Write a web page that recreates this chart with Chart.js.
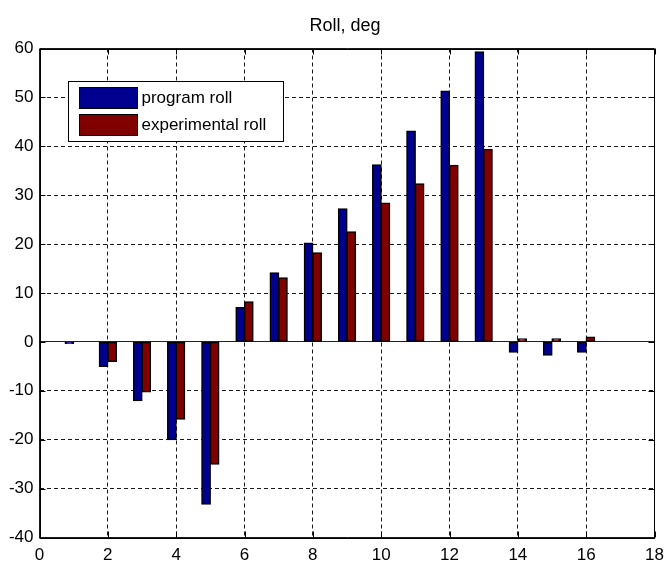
<!DOCTYPE html>
<html>
<head>
<meta charset="utf-8">
<title>Roll, deg</title>
<script src="https://cdn.jsdelivr.net/npm/chart.js@4/dist/chart.umd.min.js"></script>
<style>
  html, body { margin: 0; padding: 0; background: #fff; }
  canvas { display: block; }
</style>
</head>
<body>
<canvas id="c" width="666" height="561"></canvas>
<script>
// Run numbers (x positions) and roll angles in degrees
const runs = [1, 2, 3, 4, 5, 6, 7, 8, 9, 10, 11, 12, 13, 14, 15, 16];
const programRoll = [-0.3, -5, -12, -20, -33.2, 7, 14.1, 20.2, 27.2, 36.2, 43.1, 51.3, 59.3, -2.1, -2.7, -2.1];
const experimentalRoll = [0, -4, -10.2, -15.8, -25, 8.2, 13.1, 18.2, 22.5, 28.4, 32.3, 36.1, 39.4, 0.6, 0.6, 1.0];
const xTicks = [0, 2, 4, 6, 8, 10, 12, 14, 16, 18];
const yTicks = [-40, -30, -20, -10, 0, 10, 20, 30, 40, 50, 60];
const titleText = 'Roll, deg';

const FONT = "'Liberation Sans', Arial, sans-serif";

const toPoints = vals => runs.map((r, i) => ({ x: r, y: vals[i] }));

// Axes title, solid frame, inward tick marks and the boxed legend
const framePlugin = {
  id: 'frame',
  afterDatasetsDraw(chart) {
    const { ctx, chartArea: a, scales } = chart;
    ctx.save();
    ctx.fillStyle = '#000';
    ctx.font = '18px ' + FONT;
    ctx.textAlign = 'center';
    ctx.textBaseline = 'middle';
    ctx.fillText(titleText, (a.left + a.right) / 2 - 2, a.top - 22);

    ctx.strokeStyle = '#000';
    ctx.lineWidth = 1;
    ctx.setLineDash([]);
    ctx.strokeRect(Math.round(a.left) + 0.5, Math.round(a.top) + 0.5,
      Math.round(a.right - a.left) - 1, Math.round(a.bottom - a.top));
    const tl = 6;
    ctx.beginPath();
    scales.x.ticks.forEach(t => {
      const px = Math.round(scales.x.getPixelForValue(t.value)) + 0.5;
      ctx.moveTo(px, a.bottom); ctx.lineTo(px, a.bottom - tl);
      ctx.moveTo(px, a.top); ctx.lineTo(px, a.top + tl);
    });
    scales.y.ticks.forEach(t => {
      const py = Math.round(scales.y.getPixelForValue(t.value)) + 0.5;
      ctx.moveTo(a.left, py); ctx.lineTo(a.left + tl, py);
      ctx.moveTo(a.right, py); ctx.lineTo(a.right - tl, py);
    });
    ctx.stroke();

    // legend box
    const bx = Math.round(a.left + 28) + 0.5, by = Math.round(a.top + 32) + 0.5;
    const bw = 215, bh = 60;
    ctx.fillStyle = '#fff';
    ctx.fillRect(bx, by, bw, bh);
    ctx.strokeRect(bx, by, bw, bh);
    ctx.font = '17px ' + FONT;
    ctx.textBaseline = 'middle';
    ctx.textAlign = 'left';
    chart.data.datasets.forEach((ds, i) => {
      const sy = by + 6 + i * 27;
      ctx.fillStyle = ds.backgroundColor;
      ctx.fillRect(bx + 11, sy, 58, 21);
      ctx.strokeRect(bx + 11, sy, 58, 21);
      ctx.fillStyle = '#000';
      ctx.fillText(ds.label, bx + 73, sy + 11);
    });
    ctx.restore();
  }
};

new Chart(document.getElementById('c'), {
  type: 'bar',
  data: {
    datasets: [
      {
        label: 'program roll',
        data: toPoints(programRoll),
        backgroundColor: '#00008f',
        borderColor: '#000',
        borderWidth: 1.5,
        inflateAmount: 0.6,
        borderSkipped: false
      },
      {
        label: 'experimental roll',
        data: toPoints(experimentalRoll),
        backgroundColor: '#800000',
        borderColor: '#000',
        borderWidth: 1.5,
        inflateAmount: 0.6,
        borderSkipped: false
      }
    ]
  },
  options: {
    responsive: false,
    animation: false,
    categoryPercentage: 0.5,
    barPercentage: 1.0,
    layout: { padding: { left: 0, right: 11.5, top: 48.5, bottom: 0 } },
    plugins: {
      legend: { display: false },
      tooltip: { enabled: false },
      title: { display: false }
    },
    scales: {
      x: {
        type: 'linear',
        min: 0,
        max: 18,
        offset: false,
        afterBuildTicks: s => { s.ticks = xTicks.map(v => ({ value: v })); },
        afterFit: s => { s.height = 23.5; s.paddingLeft = 0; s.paddingRight = 0; },
        ticks: {
          color: '#000',
          padding: 8,
          maxRotation: 0,
          autoSkip: false,
          font: { family: FONT, size: 17 }
        },
        grid: {
          offset: false,
          drawTicks: false,
          color: '#1a1a1a',
          lineWidth: 1
        },
        border: {
          display: false,
          dash: ctx => (ctx.tick && (ctx.tick.value === 0 || ctx.tick.value === 18)) ? [] : [4, 3]
        }
      },
      y: {
        min: -40,
        max: 60,
        afterBuildTicks: s => { s.ticks = yTicks.map(v => ({ value: v })); },
        afterFit: s => { s.width = 39.5; },
        ticks: {
          color: '#000',
          padding: 6,
          font: { family: FONT, size: 17 }
        },
        grid: {
          drawTicks: false,
          color: ctx => (ctx.tick && ctx.tick.value === 0) ? '#222' : '#1a1a1a',
          lineWidth: 1
        },
        border: {
          display: false,
          dash: ctx => (ctx.tick && [0, -40, 60].includes(ctx.tick.value)) ? [] : [4, 3]
        }
      }
    }
  },
  plugins: [framePlugin]
});
</script>
</body>
</html>
